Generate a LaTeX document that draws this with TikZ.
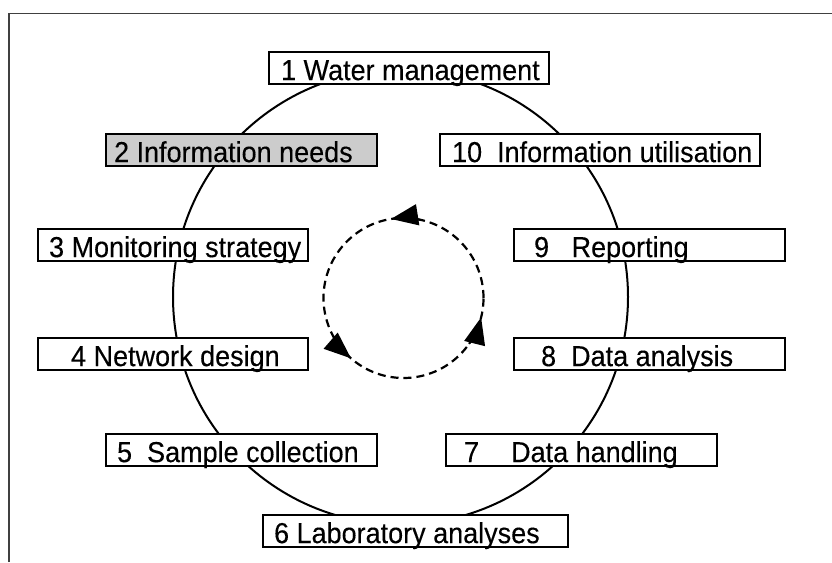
\documentclass[tikz,border=0pt]{standalone}
\usepackage{fontspec}
\setmainfont{Liberation Sans}
\newfontfamily\boxfont[FakeBold=0.25]{Liberation Sans}
\usetikzlibrary{arrows.meta}
\tikzset{
  stagebox/.style={draw=black, line width=2.2pt, fill=white, inner sep=0pt,
    text height=28pt, text depth=4pt, anchor=north west,
    font=\boxfont\fontsize{27}{32}\selectfont},
  graybox/.style={stagebox, fill=black!20},
  ringline/.style={draw=black, line width=2pt, circle, inner sep=0pt},
  cycleline/.style={draw=black, line width=2.2pt, dash pattern=on 8pt off 5pt, circle, inner sep=0pt},
  cyclearrow/.style={draw=black, line width=2pt, -{Triangle[length=27pt,width=21pt]}},
  framelines/.style={draw=black!75, line width=1.3pt}
}
\newcommand{\boxtext}[3]{\makebox[#1][l]{\hspace{#2}\scalebox{1}[1.07]{#3}}}
\begin{document}
\begin{tikzpicture}[x=1pt,y=1pt]
\useasboundingbox (0,0) rectangle (832,562);
% frame
\coordinate (fa) at (9,0);
\coordinate (fb) at (9,548.5);
\coordinate (fc) at (832,548.5);
\draw[framelines] (fa) -- (fb) -- (fc);
% big ring
\node[ringline, minimum size=455pt] (ring) at (400.5,265) {};
% dashed cycle
\coordinate (cc) at (403.5,264);
\node[cycleline, minimum size=160pt] (cycle) at (cc) {};
\draw[cyclearrow] (cc) ++(78:80) arc[start angle=78, end angle=99, radius=80];
\draw[cyclearrow] (cc) ++(208:80) arc[start angle=208, end angle=229, radius=80];
\draw[cyclearrow] (cc) ++(-35:80) arc[start angle=-35, end angle=-14, radius=80];
% stages
\node[stagebox] (s1) at (268,511) {\boxtext{280pt}{12pt}{1 Water management}};
\node[graybox]  (s2) at (105,429) {\boxtext{271pt}{8pt}{2 Information needs}};
\node[stagebox] (s10) at (439,429) {\boxtext{320pt}{12pt}{10\ \ Information utilisation}};
\node[stagebox] (s3) at (37,334) {\boxtext{270pt}{11pt}{3 Monitoring strategy}};
\node[stagebox] (s9) at (513,334) {\boxtext{271pt}{20pt}{9\ \ \ Reporting}};
\node[stagebox] (s4) at (37,225) {\boxtext{270pt}{33pt}{4 Network design}};
\node[stagebox] (s8) at (513,225) {\boxtext{271pt}{27pt}{8\ \ Data analysis}};
\node[stagebox] (s5) at (105,129) {\boxtext{271pt}{11pt}{5\ \ Sample collection}};
\node[stagebox] (s7) at (445,129) {\boxtext{271pt}{18pt}{7\hspace{32pt}Data handling}};
\node[stagebox] (s6) at (262,48) {\boxtext{305pt}{11pt}{6 Laboratory analyses}};
\end{tikzpicture}
\end{document}
